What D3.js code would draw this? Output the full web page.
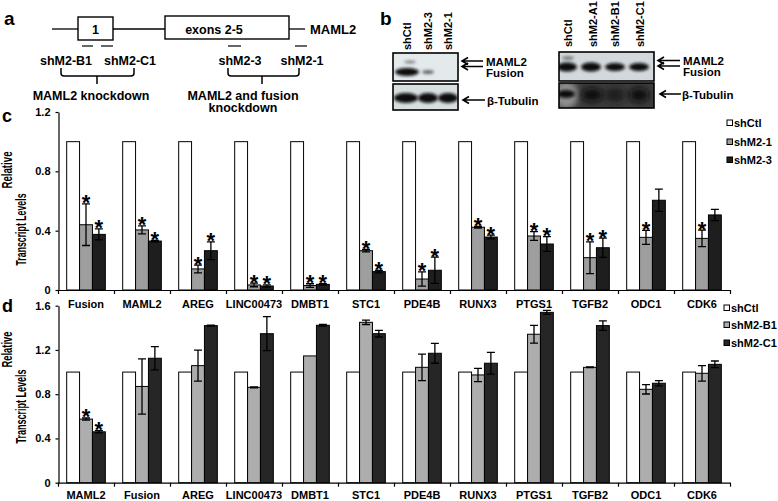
<!DOCTYPE html>
<html><head><meta charset="utf-8">
<script src="https://cdn.jsdelivr.net/npm/d3@7"></script>
<style>
html,body{margin:0;padding:0;background:#fff;}
svg text{font-family:"Liberation Sans",Arial,sans-serif;font-weight:bold;fill:#000;}
</style></head>
<body>
<svg id="fig" width="778" height="501"></svg>
<script>
// ---------------- DATA ----------------
const categoriesC = ["Fusion","MAML2","AREG","LINC00473","DMBT1","STC1","PDE4B","RUNX3","PTGS1","TGFB2","ODC1","CDK6"];
const seriesC = ["shCtl","shM2-1","shM2-3"];
const ctlC = [1,1,1,1,1,1,1,1,1,1,1,1];
const shM21 = [0.44,0.405,0.142,0.034,0.03,0.265,0.074,0.423,0.364,0.218,0.355,0.348];
const shM21Err = [0.14,0.027,0.026,0.012,0.012,0.008,0.048,0.005,0.03,0.107,0.047,0.056];
const shM23 = [0.375,0.33,0.265,0.027,0.038,0.124,0.133,0.357,0.31,0.285,0.605,0.506];
const shM23Err = [0.037,0.005,0.06,0.008,0.005,0.008,0.088,0.013,0.05,0.065,0.075,0.038];
const starC1 = [1,1,1,1,1,1,1,1,1,1,1,1];
const starC3 = [1,1,1,1,1,1,1,1,1,1,0,0];
const yTicksC = [0,0.4,0.8,1.2];
const tickLabelsC = ["0","0.4","0.8","1.2"];

const categoriesD = ["MAML2","Fusion","AREG","LINC00473","DMBT1","STC1","PDE4B","RUNX3","PTGS1","TGFB2","ODC1","CDK6"];
const seriesD = ["shCtl","shM2-B1","shM2-C1"];
const ctlD = [1,1,1,1,1,1,1,1,1,1,1,1];
const shB1 = [0.575,0.87,1.058,0.862,1.146,1.45,1.043,0.974,1.342,1.043,0.844,0.989];
const shB1Err = [0.01,0.25,0.14,0.005,0,0.02,0.12,0.06,0.08,0.003,0.042,0.07];
const shC1 = [0.46,1.125,1.42,1.347,1.423,1.347,1.17,1.08,1.54,1.42,0.899,1.07];
const shC1Err = [0.01,0.105,0.005,0.154,0.007,0.03,0.09,0.098,0.018,0.043,0.023,0.03];
const starD1 = [1,0,0,0,0,0,0,0,0,0,0,0];
const starD3 = [1,0,0,0,0,0,0,0,0,0,0,0];
const yTicksD = [0,0.4,0.8,1.2,1.6];
const tickLabelsD = ["0","0.4","0.8","1.2","1.6"];

const svg = d3.select("#fig");
const FONT = '"Liberation Sans",Arial,sans-serif';

// ---------------- PANEL a (schematic) ----------------
const a = svg.append("g");
a.append("text").attr("x",4).attr("y",25).attr("font-size",19).text("a");
const ln = (x1,y1,x2,y2,w)=>a.append("line").attr("x1",x1).attr("y1",y1).attr("x2",x2).attr("y2",y2).attr("stroke","#000").attr("stroke-width",w||1.3);
ln(52,29,78,29); ln(113,29,165,29); ln(289,29,305,29);
a.append("rect").attr("x",78).attr("y",17).attr("width",35).attr("height",23).attr("fill","#fff").attr("stroke","#000").attr("stroke-width",1.4);
a.append("rect").attr("x",165).attr("y",16).attr("width",124).attr("height",23).attr("fill","#fff").attr("stroke","#000").attr("stroke-width",1.4);
a.append("text").attr("x",95.5).attr("y",33.5).attr("text-anchor","middle").attr("font-size",12.5).text("1");
a.append("text").attr("x",214).attr("y",33.5).attr("text-anchor","middle").attr("font-size",12.5).text("exons 2-5");
a.append("text").attr("x",310).attr("y",34).attr("font-size",13).text("MAML2");
ln(82,46,93,46,1.2); ln(101,46,113,46,1.2); ln(228,46,241,46,1.2); ln(295,46,307,46,1.2);
[["shM2-B1",66],["shM2-C1",130],["shM2-3",240],["shM2-1",302]].forEach(([t,x])=>
  a.append("text").attr("x",x).attr("y",64.5).attr("text-anchor","middle").attr("font-size",12.5).text(t));
function brace(x1,x2,xm){
  a.append("path").attr("d",`M${x1},68 V73 Q${x1},76 ${x1+3},76 H${x2-3} Q${x2},76 ${x2},73 V68 M${xm},76 V84`)
   .attr("fill","none").attr("stroke","#000").attr("stroke-width",1.5);
}
brace(61,134,97); brace(228,299,262);
a.append("text").attr("x",91).attr("y",99.5).attr("text-anchor","middle").attr("font-size",12.5).text("MAML2 knockdown");
a.append("text").attr("x",243).attr("y",99.5).attr("text-anchor","middle").attr("font-size",12.5).text("MAML2 and fusion");
a.append("text").attr("x",243).attr("y",112).attr("text-anchor","middle").attr("font-size",12.5).text("knockdown");

// ---------------- PANEL b (blots) ----------------
const defs = svg.append("defs");
defs.append("filter").attr("id","blur").attr("x","-50%").attr("y","-100%").attr("width","200%").attr("height","300%")
  .append("feGaussianBlur").attr("stdDeviation",1.6);
defs.append("filter").attr("id","blur2").attr("x","-50%").attr("y","-100%").attr("width","200%").attr("height","300%")
  .append("feGaussianBlur").attr("stdDeviation",3);
const b = svg.append("g");
b.append("text").attr("x",380).attr("y",25).attr("font-size",19).text("b");
function laneLabels(xs,labels,yb){
  labels.forEach((t,i)=>b.append("text").attr("transform",`translate(${xs[i]+4},${yb}) rotate(-90)`).attr("font-size",11).text(t));
}
laneLabels([407,428,448],["shCtl","shM2-3","shM2-1"],50);
laneLabels([568,593,615,640],["shCtl","shM2-A1","shM2-B1","shM2-C1"],47);
function box(x,y,w,h,fill){
  const g=b.append("g");
  g.append("clipPath").attr("id",`c${x}${y}`).append("rect").attr("x",x).attr("y",y).attr("width",w).attr("height",h);
  g.append("rect").attr("x",x).attr("y",y).attr("width",w).attr("height",h).attr("fill",fill);
  const inner=g.append("g").attr("clip-path",`url(#c${x}${y})`);
  g.append("rect").attr("x",x).attr("y",y).attr("width",w).attr("height",h).attr("fill","none").attr("stroke","#000").attr("stroke-width",1.6);
  return inner;
}
function band(g,cx,cy,rx,ry,col,op,f){
  g.append("ellipse").attr("cx",cx).attr("cy",cy).attr("rx",rx).attr("ry",ry).attr("fill",col).attr("opacity",op).attr("filter",`url(#${f||"blur"})`);
}
let g1=box(393,53,65,28,"#e4eaec");
band(g1,410,62,6,1.5,"#333",0.6); band(g1,407,72,12,4,"#0d0d0d",1); band(g1,428,72,6,2,"#333",0.7);
let g2=box(393,84,65,26,"#d8dfe1");
band(g2,406,98,12,5,"#0a0a0a",1); band(g2,428,98,10,5,"#0a0a0a",1); band(g2,448,98,10,5,"#111",1);
let g3=box(559,52,95,29,"#d2d8db");
band(g3,568,58,6,2,"#444",0.6); band(g3,567,67,10,4.5,"#0a0a0a",1); band(g3,591,67,10,4.5,"#0a0a0a",1);
band(g3,615,67,10,4,"#0a0a0a",1); band(g3,639,67,10,4,"#0a0a0a",1);
let g4=box(559,83,95,25,"#3c3c3c");
band(g4,566,95,12,14,"#9a9a9a",0.9,"blur2"); band(g4,566,94,9,4,"#0a0a0a",1);
band(g4,592,95,11,7,"#111",1,"blur2"); band(g4,615,95,10,7,"#1a1a1a",1,"blur2"); band(g4,639,95,10,7,"#111",1,"blur2");
function arrow(x1,x2,y){
  b.append("path").attr("d",`M${x2},${y} H${x1+1} M${x1+6},${y-3.5} L${x1},${y} L${x1+6},${y+3.5}`)
   .attr("fill","none").attr("stroke","#000").attr("stroke-width",1.6);
}
arrow(462,483,61); arrow(462,483,66.5);
b.append("text").attr("x",486).attr("y",66).attr("font-size",11.5).text("MAML2");
b.append("text").attr("x",486).attr("y",77).attr("font-size",11.5).text("Fusion");
arrow(463,485,100);
b.append("text").attr("x",487).attr("y",104.5).attr("font-size",11.5).text("β-Tubulin");
arrow(658,680,60.5); arrow(658,680,66);
b.append("text").attr("x",683).attr("y",65).attr("font-size",11.5).text("MAML2");
b.append("text").attr("x",683).attr("y",76).attr("font-size",11.5).text("Fusion");
arrow(660,681,94);
b.append("text").attr("x",682).attr("y",98.5).attr("font-size",11.5).text("β-Tubulin");

// ---------------- BAR CHART helper ----------------
function barChart(opt){
  const g = svg.append("g");
  const y = d3.scaleLinear().domain([0,opt.ymax]).range([opt.y0,opt.y1]);
  const x0 = d3.scaleBand().domain(opt.cats).range([58,730]).paddingInner(0.31).paddingOuter(0.155);
  const x1 = d3.scaleBand().domain(opt.series).range([0,x0.bandwidth()]);
  const xb = d3.scaleLinear().domain([0,opt.cats.length]).range([58,730]);
  const colors = d3.scaleOrdinal().domain(opt.series).range(["#ffffff",opt.gray,opt.dark]);
  const rows = opt.cats.map((c,i)=>({c,i,vals:[
    {s:opt.series[0],v:opt.v0[i],e:0,star:0},
    {s:opt.series[1],v:opt.v1[i],e:opt.e1[i],star:opt.s1[i]},
    {s:opt.series[2],v:opt.v2[i],e:opt.e2[i],star:opt.s2[i]}]}));
  const grp = g.selectAll("g.grp").data(rows).join("g").attr("transform",d=>`translate(${x0(d.c)},0)`);
  grp.selectAll("rect").data(d=>d.vals).join("rect")
    .attr("x",d=>x1(d.s)).attr("width",x1.bandwidth())
    .attr("y",d=>y(d.v)).attr("height",d=>y(0)-y(d.v))
    .attr("fill",d=>colors(d.s)).attr("stroke","#000").attr("stroke-width",1);
  const eb = grp.selectAll("g.eb").data(d=>d.vals.filter(v=>v.e>0)).join("g");
  eb.append("path").attr("d",d=>{
      const cx=x1(d.s)+x1.bandwidth()/2, t=y(d.v+d.e), bo=y(d.v-d.e), w=4;
      return `M${cx},${t}V${bo}M${cx-w},${t}H${cx+w}M${cx-w},${bo}H${cx+w}`;})
    .attr("fill","none").attr("stroke","#000").attr("stroke-width",1.3);
  grp.selectAll("text.star").data(d=>d.vals.filter(v=>v.star)).join("text").attr("class","star")
    .attr("x",d=>x1(d.s)+x1.bandwidth()/2).attr("y",d=>y(d.v+d.e)+6.5)
    .attr("text-anchor","middle").attr("font-size",22).text("*");
  // axes
  g.append("g").attr("transform","translate(58.5,0)")
    .call(d3.axisLeft(y).tickValues(opt.yTicks).tickFormat((d,i)=>opt.yLabels[i]).tickSize(3).tickSizeOuter(0).tickPadding(5))
    .call(s=>{s.selectAll("text").attr("font-size",11).attr("font-family",FONT).attr("font-weight","bold").attr("fill","#000");
              s.selectAll("path,line").attr("stroke","#000").attr("stroke-width",1.2);});
  g.append("g").attr("transform",`translate(0,${opt.y0})`)
    .call(d3.axisBottom(xb).tickValues(d3.range(0,opt.cats.length+1)).tickFormat("").tickSize(4).tickSizeOuter(0))
    .call(s=>s.selectAll("path,line").attr("stroke","#000").attr("stroke-width",1.2));
  g.selectAll("text.cat").data(opt.cats).join("text").attr("class","cat")
    .attr("x",d=>x0(d)+x0.bandwidth()/2).attr("y",opt.labelY).attr("text-anchor","middle").attr("font-size",11).text(d=>d);
  // y title
  g.append("text").attr("transform",`translate(11.5,${opt.t1}) rotate(-90)`).attr("text-anchor","middle")
    .attr("font-size",14).attr("textLength",opt.l1).attr("lengthAdjust","spacingAndGlyphs").text("Relative");
  g.append("text").attr("transform",`translate(26,${opt.t2}) rotate(-90)`).attr("text-anchor","middle")
    .attr("font-size",14).attr("textLength",opt.l2).attr("lengthAdjust","spacingAndGlyphs").text("Transcript Levels");
  g.append("text").attr("x",2).attr("y",opt.panelY).attr("font-size",18).text(opt.panel);
  // legend
  const lg = g.append("g");
  opt.series.forEach((s,i)=>{
    const cy = opt.legY[i];
    lg.append("rect").attr("x",opt.legX).attr("y",cy-3).attr("width",5.5).attr("height",5.5)
      .attr("fill",colors(s)).attr("stroke","#000").attr("stroke-width",1);
    lg.append("text").attr("x",opt.legX+7).attr("y",cy+4).attr("font-size",11).text(s);
  });
}

barChart({cats:categoriesC,series:seriesC,v0:ctlC,v1:shM21,e1:shM21Err,v2:shM23,e2:shM23Err,s1:starC1,s2:starC3,
  ymax:1.2,y0:290,y1:112,yTicks:yTicksC,yLabels:tickLabelsC,labelY:308,t1:170,t2:229.5,l1:37,l2:72,
  panel:"c",panelY:122,legX:727,legY:[123,142,160],gray:"#9e9e9e",dark:"#1e1e1e"});
barChart({cats:categoriesD,series:seriesD,v0:ctlD,v1:shB1,e1:shB1Err,v2:shC1,e2:shC1Err,s1:starD1,s2:starD3,
  ymax:1.6,y0:482.7,y1:305.7,yTicks:yTicksD,yLabels:tickLabelsD,labelY:498.5,t1:349.5,t2:406.5,l1:36,l2:74,
  panel:"d",panelY:312,legX:724,legY:[308,325,343],gray:"#adadad",dark:"#262626"});
</script>
</body></html>
